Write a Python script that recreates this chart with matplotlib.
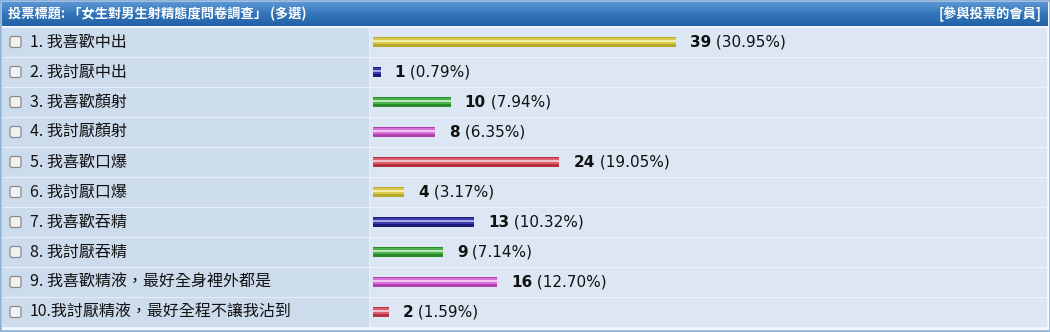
import matplotlib
matplotlib.use('Agg')
import matplotlib.pyplot as plt
import numpy as np
from matplotlib.patches import Rectangle, FancyBboxPatch
from matplotlib.colors import LinearSegmentedColormap

plt.rcParams['font.family'] = ['Noto Sans CJK TC', 'DejaVu Sans']

title = '投票標題: 「女生對男生射精態度問卷調查」 (多選)'
right_title = '[參與投票的會員]'
labels = ['1. 我喜歡中出', '2. 我討厭中出', '3. 我喜歡顏射', '4. 我討厭顏射',
          '5. 我喜歡口爆', '6. 我討厭口爆', '7. 我喜歡吞精', '8. 我討厭吞精',
          '9. 我喜歡精液，最好全身裡外都是', '10.我討厭精液，最好全程不讓我沾到']
votes = [39, 1, 10, 8, 24, 4, 13, 9, 16, 2]
percents = ['30.95%', '0.79%', '7.94%', '6.35%', '19.05%', '3.17%', '10.32%', '7.14%', '12.70%', '1.59%']
# base, mid, highlight
bar_colors = [('#b8a828', '#d8cc50', '#f4eeaa'),
              ('#1c1c78', '#3a3aa8', '#a8a8e8'),
              ('#2a8a2a', '#4cb04c', '#b8e8b8'),
              ('#b040b0', '#d870d8', '#f4c8f4'),
              ('#b83040', '#d86070', '#f4c0c8')]

W, H = 1050, 332
fig = plt.figure(figsize=(W / 100, H / 100), dpi=100)
bg = fig.add_axes([0, 0, 1, 1])
bg.set_xlim(0, W)
bg.set_ylim(H, 0)
bg.axis('off')

# outer frame
bg.add_patch(Rectangle((0, 0), W, H, color='#8fb2d9', zorder=0))
bg.add_patch(Rectangle((2, 2), W - 4, H - 5, color='#f4f8fc', zorder=0.5))

# header gradient
grad = np.linspace(0, 1, 50).reshape(-1, 1)
hcm = LinearSegmentedColormap.from_list('h', ['#5a96d4', '#3474b8', '#2362a8'])
bg.imshow(grad, cmap=hcm, extent=(2, W - 2, 26, 2), aspect='auto', zorder=1)
bg.text(8, 14, title, color='white', fontsize=9.5, fontweight='bold', va='center', ha='left', zorder=3)
bg.text(W - 8, 14, right_title, color='white', fontsize=9.5, fontweight='bold', va='center', ha='right', zorder=3)

row_top = 28
row_h = 30
for i, lab in enumerate(labels):
    y0 = row_top + i * row_h
    bg.add_patch(Rectangle((2, y0), 366, row_h - 2, color='#cddcec', zorder=1))
    bg.add_patch(Rectangle((370, y0), W - 374, row_h - 2, color='#dce7f3', zorder=1))
    yc = y0 + (row_h - 2) / 2
    bg.add_patch(FancyBboxPatch((10, yc - 5.5), 11, 11, boxstyle='round,pad=0,rounding_size=2',
                                facecolor='#f2f2f2', edgecolor='#8a8a8a', lw=0.9, zorder=2))
    bg.text(30, yc, lab, fontsize=11.5, va='center', ha='left', color='#111111', zorder=3)

# bar area
x_left, x_right = 373, W - 4
px_per_vote = 7.77
ax = fig.add_axes([x_left / W, 1 - (row_top + 10 * row_h) / H, (x_right - x_left) / W, 10 * row_h / H])
ax.set_xlim(0, (x_right - x_left) / px_per_vote)
ax.set_ylim(9.5 + 0.033, -0.5 + 0.033)
ax.axis('off')
ax.patch.set_alpha(0)

y = np.arange(len(votes))
for i, v in enumerate(votes):
    c0, c1, c2 = bar_colors[i % 5]
    ax.barh(y[i], v, height=0.34, color=c0, zorder=2)
    ax.barh(y[i] - 0.02, v, height=0.2, color=c1, zorder=3)
    ax.barh(y[i] - 0.04, v, height=0.07, color=c2, zorder=4)
    t = ax.annotate(str(v), xy=(v, y[i]), xytext=(10, 0), textcoords='offset points',
                    fontsize=11, fontweight='bold', va='center', ha='left',
                    family='DejaVu Sans', color='#111111')
    ax.annotate(' (' + percents[i] + ')', xy=(1, 0.5), xycoords=t, va='center', ha='left',
                fontsize=11, family='DejaVu Sans', color='#111111')

fig.savefig('out.png', dpi=100)
